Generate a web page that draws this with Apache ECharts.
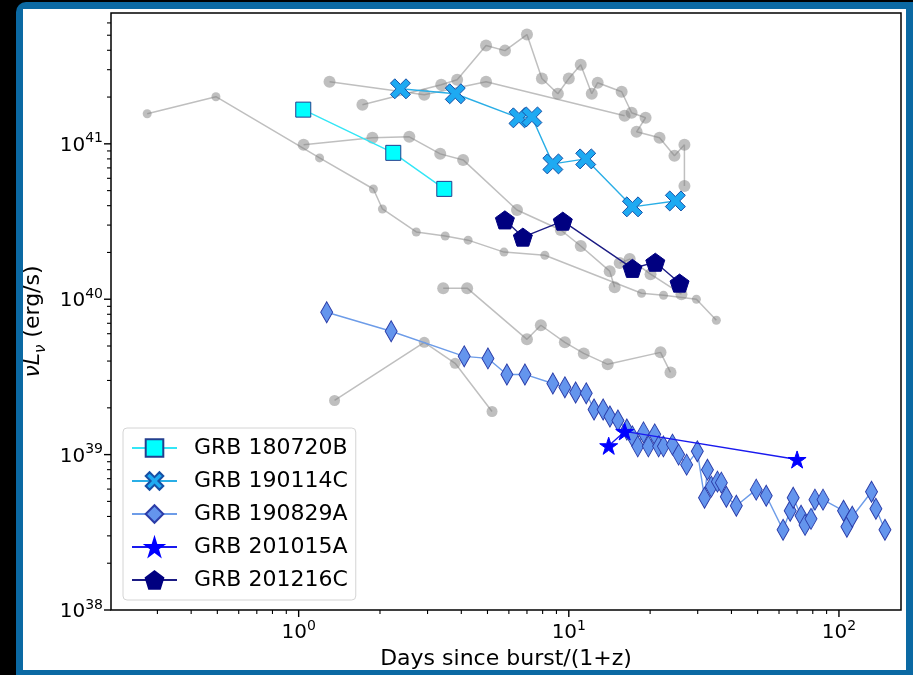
<!DOCTYPE html>
<html>
<head>
<meta charset="utf-8">
<script src="https://cdn.jsdelivr.net/npm/echarts@6/dist/echarts.min.js"></script>
<style>
  html, body { margin: 0; padding: 0; width: 913px; height: 675px; overflow: hidden; background: #000; }
  #frame { position: absolute; left: 16px; top: 2px; width: 897px; height: 673px; background: #0b69a3; border-top-left-radius: 10px; }
  #paper { position: absolute; left: 23px; top: 9px; width: 883px; height: 661px; background: #fff; }
  #chart { position: absolute; left: 0; top: 0; width: 913px; height: 675px; }
</style>
</head>
<body>
<div id="frame"></div>
<div id="paper"></div>
<div id="chart"></div>
<script>
// Rest-frame days since burst and spectral luminosity nuL_nu (erg/s)
const grb180720B_t = [1.04, 2.24, 3.46];
const grb180720B_L = [1.66e41, 8.75e40, 5.13e40];

const grb190114C_t = [2.38, 3.80, 6.54, 7.30, 8.73, 11.55, 17.2, 24.8];
const grb190114C_L = [2.26e41, 2.10e41, 1.47e41, 1.49e41, 7.43e40, 8.0e40, 3.93e40, 4.29e40];

const grb190829A_t = [1.27, 2.20, 4.10, 5.02, 5.90, 6.88, 8.73, 9.67, 10.6, 11.6,
  12.4, 13.4, 14.2, 15.2, 16.4, 17.2, 18.0, 18.9, 19.7, 20.8,
  21.5, 22.4, 24.2, 25.5, 27.3, 29.9, 31.8, 32.6, 33.7, 35.5,
  36.7, 38.3, 41.7, 49.4, 53.8, 62.1, 66.0, 67.7, 72.4, 74.9,
  78.8, 81.5, 87.3, 104, 107, 112, 132, 137, 148];
const grb190829A_L = [8.24e39, 6.22e39, 4.29e39, 4.16e39, 3.28e39, 3.28e39, 2.87e39, 2.71e39, 2.51e39, 2.48e39,
  1.95e39, 1.95e39, 1.76e39, 1.66e39, 1.45e39, 1.31e39, 1.13e39, 1.39e39, 1.13e39, 1.35e39,
  1.13e39, 1.13e39, 1.16e39, 1.00e39, 8.62e38, 1.05e39, 5.28e38, 8.00e38, 6.22e38, 6.70e38,
  6.60e38, 5.36e38, 4.69e38, 5.95e38, 5.44e38, 3.28e38, 4.35e38, 5.28e38, 4.04e38, 3.53e38,
  3.86e38, 5.13e38, 5.13e38, 4.35e38, 3.43e38, 3.98e38, 5.77e38, 4.48e38, 3.28e38];

const grb201015A_t = [14.05, 16.1, 70.0];
const grb201015A_L = [1.14e39, 1.41e39, 9.3e38];

const grb201216C_t = [5.80, 6.76, 9.50, 17.2, 20.9, 25.7];
const grb201216C_L = [3.24e40, 2.51e40, 3.18e40, 1.58e40, 1.73e40, 1.27e40];

// Comparison light curves (drawn in grey)
const cmpA_t = [0.275, 0.494, 1.195, 1.891, 2.042, 2.725, 3.487, 4.240, 5.755, 8.153, 18.59, 22.42, 29.67, 35.17];
const cmpA_L = [1.562e41, 2.010e41, 8.12e40, 5.12e40, 3.81e40, 2.71e40, 2.55e40, 2.40e40, 2.01e40, 1.92e40, 1.093e40, 1.061e40, 1.0e40, 7.32e39];
const cmpB_t = [1.043, 1.875, 2.568, 3.342, 4.062, 6.43, 9.34, 11.07, 14.17, 14.78];
const cmpB_L = [9.85e40, 1.093e41, 1.110e41, 8.62e40, 7.88e40, 3.75e40, 2.79e40, 2.20e40, 1.516e40, 1.195e40];
const cmpC_t = [1.722, 3.371, 3.861, 4.939, 5.805, 7.00, 7.95, 9.11, 10.0, 11.07, 12.16, 12.79, 15.69, 17.08, 19.24, 17.82, 21.67, 24.61, 26.79, 26.79];
const cmpC_L = [1.785e41, 2.403e41, 2.588e41, 4.29e41, 3.98e41, 5.05e41, 2.63e41, 2.10e41, 2.63e41, 3.23e41, 2.10e41, 2.475e41, 2.165e41, 1.585e41, 1.472e41, 1.195e41, 1.093e41, 8.37e40, 9.85e40, 5.36e40];
const cmpD_t = [1.301, 2.917, 4.939, 16.09];
const cmpD_L = [2.51e41, 2.07e41, 2.51e41, 1.516e41];
const cmpE_t = [1.358, 2.917, 3.796, 5.198];
const cmpE_L = [2.23e39, 5.28e39, 3.87e39, 1.894e39];
const cmpF_t = [3.428, 4.204, 7.00, 7.88, 9.67, 11.36, 13.93, 21.85, 23.79];
const cmpF_L = [1.178e40, 1.178e40, 5.52e39, 6.80e39, 5.28e39, 4.48e39, 3.81e39, 4.55e39, 3.38e39];
const cmpG_t = [15.43, 16.80, 20.07, 26.12];
const cmpG_L = [1.708e40, 1.813e40, 1.450e40, 1.077e40];

// Axis ranges and decade ticks
const X_MIN = 0.202, X_MAX = 169.7;
const Y_MIN = 1e38, Y_MAX = 6.95e41;
const xDecades = [1, 10, 100];
const yDecades = [1e38, 1e39, 1e40, 1e41];
const xTickLabels = ['10^0', '10^1', '10^2'];
const yTickLabels = ['10^38', '10^39', '10^40', '10^41'];

const FONT = 'DejaVu Sans';

function pairs(t, L) { return t.map((v, i) => [v, L[i]]); }

function polygonPath(n, rOuter, rInner, rot) {
  const pts = [];
  const m = rInner ? n * 2 : n;
  for (let i = 0; i < m; i++) {
    const r = rInner && i % 2 ? rInner : rOuter;
    const a = rot + i * 2 * Math.PI / m;
    pts.push((r * Math.cos(a)).toFixed(4) + ',' + (r * Math.sin(a)).toFixed(4));
  }
  return 'path://M' + pts.join(' L') + ' Z';
}
const STAR = polygonPath(5, 1, 0.381966, -Math.PI / 2);
const PENTAGON = polygonPath(5, 1, 0, -Math.PI / 2);
const XMARK = 'path://M2.2,0 L5,2.8 L7.8,0 L10,2.2 L7.2,5 L10,7.8 L7.8,10 L5,7.2 L2.2,10 L0,7.8 L2.8,5 L0,2.2 Z';

// Minor/major tick list: [x, y, length, 0 = x-axis / 1 = y-axis]
const tickData = [];
for (let k = -1; k <= 2; k++) {
  for (let m = 1; m <= 9; m++) {
    const v = m * Math.pow(10, k);
    if (v >= X_MIN && v <= X_MAX) tickData.push([v, Y_MIN, m === 1 ? 7 : 4, 0]);
  }
}
for (let k = 38; k <= 41; k++) {
  for (let m = 1; m <= 9; m++) {
    const v = m * Math.pow(10, k);
    if (v >= Y_MIN && v <= Y_MAX) tickData.push([X_MIN, v, m === 1 ? 7 : 4, 1]);
  }
}

function decadeLabel(decades, labels) {
  return function (v) {
    for (let i = 0; i < decades.length; i++) {
      if (Math.abs(Math.log10(v) - Math.log10(decades[i])) < 1e-6) {
        const parts = labels[i].split('^');
        return '{b|' + parts[0] + '}{s|' + parts[1] + '}';
      }
    }
    return '';
  };
}
const supRich = {
  b: { fontSize: 20, fontFamily: FONT, color: '#000', verticalAlign: 'bottom' },
  s: { fontSize: 14, fontFamily: FONT, color: '#000', verticalAlign: 'bottom', padding: [0, 0, 10, 0] }
};

const GREY = 'rgba(128,128,128,0.5)';
function greySeries(name, t, L, size) {
  return {
    name: name, type: 'line', data: pairs(t, L), z: 2,
    symbol: 'circle', symbolSize: size, showSymbol: true,
    lineStyle: { color: GREY, width: 1.5 },
    itemStyle: { color: GREY, borderWidth: 0 },
    emphasis: { disabled: true }, silent: true
  };
}
function grbSeries(name, t, L, symbol, size, fill, edge, line, z) {
  return {
    name: name, type: 'line', data: pairs(t, L), z: z,
    symbol: symbol, symbolSize: size, showSymbol: true, symbolKeepAspect: true,
    lineStyle: { color: line, width: 1.4 },
    itemStyle: { color: fill, borderColor: edge, borderWidth: 1 },
    emphasis: { disabled: true }
  };
}

const chart = echarts.init(document.getElementById('chart'), null, { renderer: 'canvas' });
chart.setOption({
  animation: false,
  backgroundColor: 'transparent',
  grid: { left: 111, right: 12, top: 13, bottom: 65, show: true, borderColor: '#000', borderWidth: 1.5, backgroundColor: 'transparent' },
  legend: {
    data: ['GRB 180720B', 'GRB 190114C', 'GRB 190829A', 'GRB 201015A', 'GRB 201216C'],
    orient: 'vertical', left: 123, top: 428,
    itemWidth: 45, itemHeight: 22, itemGap: 11,
    padding: [9, 8, 9, 8],
    backgroundColor: 'rgba(255,255,255,0.85)', borderColor: '#d4d4d4', borderWidth: 1, borderRadius: 4,
    textStyle: { fontFamily: FONT, fontSize: 22, color: '#000', padding: [0, 0, 0, 12] },
    z: 20
  },
  xAxis: {
    type: 'log', logBase: 10, min: X_MIN, max: X_MAX,
    axisLine: { show: false }, axisTick: { show: false }, splitLine: { show: false },
    axisLabel: { formatter: decadeLabel(xDecades, xTickLabels), rich: supRich, margin: 9, showMinLabel: false, showMaxLabel: false },
    name: 'Days since burst/(1+z)', nameLocation: 'middle', nameGap: 31,
    nameTextStyle: { fontFamily: FONT, fontSize: 22, color: '#000' }
  },
  yAxis: {
    type: 'log', logBase: 10, min: Y_MIN, max: Y_MAX,
    axisLine: { show: false }, axisTick: { show: false }, splitLine: { show: false },
    axisLabel: { formatter: decadeLabel(yDecades, yTickLabels), rich: supRich, margin: 8, showMaxLabel: false },
    name: '{a|νL}{b|ν}{c| (erg/s)}', nameLocation: 'middle', nameGap: 58, nameRotate: 90,
    nameTextStyle: {
      fontFamily: FONT, color: '#000', padding: [0, 20, 0, 0],
      rich: {
        a: { fontFamily: FONT, fontSize: 22, fontStyle: 'italic', color: '#000', verticalAlign: 'bottom', padding: [0, 0, 5, 0] },
        b: { fontFamily: FONT, fontSize: 15, fontStyle: 'italic', color: '#000', verticalAlign: 'bottom' },
        c: { fontFamily: FONT, fontSize: 22, color: '#000', verticalAlign: 'bottom', padding: [0, 0, 5, 0] }
      }
    }
  },
  series: [
    greySeries('cmpA', cmpA_t, cmpA_L, 9),
    greySeries('cmpB', cmpB_t, cmpB_L, 12),
    greySeries('cmpC', cmpC_t, cmpC_L, 12),
    greySeries('cmpD', cmpD_t, cmpD_L, 12),
    greySeries('cmpE', cmpE_t, cmpE_L, 11),
    greySeries('cmpF', cmpF_t, cmpF_L, 12),
    greySeries('cmpG', cmpG_t, cmpG_L, 12),
    grbSeries('GRB 180720B', grb180720B_t, grb180720B_L, 'rect', 15, '#00ffff', '#233f8e', '#33e6f6', 5),
    grbSeries('GRB 190114C', grb190114C_t, grb190114C_L, XMARK, 20, '#1eaaf2', '#1650a6', '#2aaee6', 5),
    grbSeries('GRB 190829A', grb190829A_t, grb190829A_L, 'diamond', [12, 21], '#6495ed', '#2b3ca8', '#6d9ce8', 5),
    grbSeries('GRB 201015A', grb201015A_t, grb201015A_L, STAR, 18, '#0000ff', '#0000ff', '#1a1aee', 6),
    grbSeries('GRB 201216C', grb201216C_t, grb201216C_L, PENTAGON, 19, '#000080', '#000080', '#1c1c84', 6),
    {
      name: 'ticks', type: 'custom', data: tickData, clip: false, silent: true, z: 10,
      renderItem: function (params, api) {
        const p = api.coord([api.value(0), api.value(1)]);
        const len = api.value(2);
        const shape = api.value(3) === 0
          ? { x1: p[0], y1: p[1], x2: p[0], y2: p[1] + len }
          : { x1: p[0] - len, y1: p[1], x2: p[0], y2: p[1] };
        return { type: 'line', shape: shape, style: { stroke: '#000', lineWidth: api.value(2) > 5 ? 1.4 : 1.1 } };
      }
    }
  ]
});
</script>
</body>
</html>
